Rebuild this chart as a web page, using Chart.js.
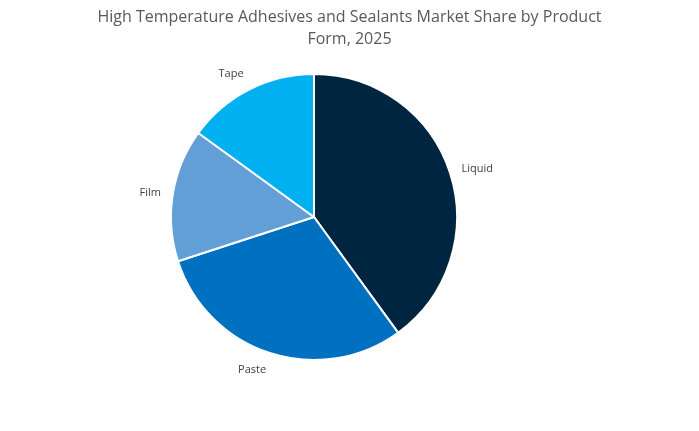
<!DOCTYPE html>
<html>
<head>
<meta charset="utf-8">
<script src="https://cdn.jsdelivr.net/npm/chart.js@4"></script>
<style>
  body { margin: 0; background: #fff; }
  #wrap { width: 699px; height: 431px; }
</style>
</head>
<body>
<div id="wrap"><canvas id="pieChart" width="699" height="431"></canvas></div>
<script>
// Market share by product form, 2025
const categories = ["Liquid", "Paste", "Film", "Tape"];
const shares = [40, 30, 15, 15];
const sliceColors = ["#002540", "#0070C0", "#629FD6", "#00B0F0"];
const titleLines = ["High Temperature Adhesives and Sealants Market Share by Product", "Form, 2025"];

// Draws the title and the outside labels
const labelPlugin = {
    id: "outsideLabels",
    afterDraw(chart) {
        const ctx = chart.ctx;
        ctx.save();
        ctx.fillStyle = "#595959";
        ctx.font = "16px 'Open Sans', sans-serif";
        ctx.textAlign = "center";
        ctx.textBaseline = "middle";
        ctx.fillText(titleLines[0], chart.width / 2, 17);
        ctx.fillText(titleLines[1], chart.width / 2, 39);

        ctx.fillStyle = "#404040";
        ctx.font = "11px 'Open Sans', sans-serif";
        const meta = chart.getDatasetMeta(0);
        meta.data.forEach((arc, i) => {
            const mid = (arc.startAngle + arc.endAngle) / 2;
            const r = arc.outerRadius + 12;
            const x = arc.x + Math.cos(mid) * r;
            const y = arc.y + Math.sin(mid) * r;
            ctx.textAlign = Math.cos(mid) >= 0 ? "left" : "right";
            const s = Math.sin(mid);
            ctx.textBaseline = s > 0.5 ? "top" : (s < -0.5 ? "bottom" : "middle");
            ctx.fillText(categories[i], x, y);
        });
        ctx.restore();
    }
};

new Chart(document.getElementById("pieChart"), {
    type: "pie",
    data: {
        labels: categories,
        datasets: [{
            data: shares,
            backgroundColor: sliceColors,
            borderColor: "#ffffff",
            borderWidth: 2
        }]
    },
    options: {
        responsive: false,
        animation: false,
        layout: {
            padding: { top: 73, bottom: 70, left: 170, right: 241 }
        },
        plugins: {
            legend: { display: false },
            title: { display: false },
            tooltip: { enabled: false }
        }
    },
    plugins: [labelPlugin]
});
</script>
</body>
</html>
